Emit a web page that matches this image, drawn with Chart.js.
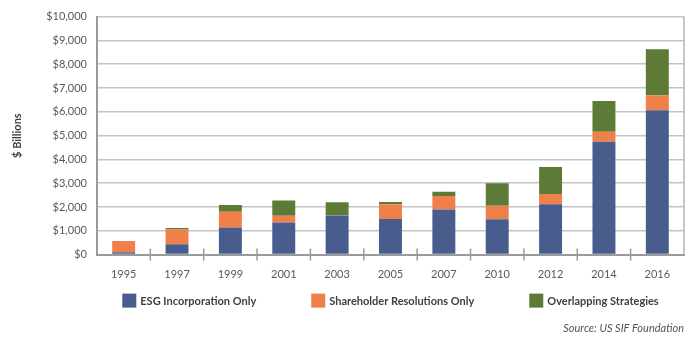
<!DOCTYPE html>
<html>
<head>
<meta charset="utf-8">
<script src="https://cdn.jsdelivr.net/npm/chart.js@4.4.1/dist/chart.umd.min.js"></script>
<style>
  html, body { margin: 0; padding: 0; background: #fff; }
  #wrap { width: 700px; height: 353px; }
</style>
</head>
<body>
<div id="wrap"><canvas id="chart"></canvas></div>
<script>
// Sustainable investing assets, $ billions
const years = ["1995", "1997", "1999", "2001", "2003", "2005", "2007", "2010", "2012", "2014", "2016"];
const esgOnly = [100, 430, 1140, 1350, 1640, 1500, 1890, 1490, 2120, 4740, 6060];
const resolutionsOnly = [470, 620, 660, 280, 10, 620, 570, 560, 430, 420, 640];
const overlapping = [0, 70, 280, 640, 550, 90, 180, 950, 1130, 1290, 1930];

const seriesNames = ["ESG Incorporation Only", "Shareholder Resolutions Only", "Overlapping Strategies"];
const seriesColors = ["#485C8D", "#EF8049", "#5D7A36"];
const yTicksMax = 10000;
const yTicksStep = 1000;
const sourceNote = "Source: US SIF Foundation";

const FONT = "Lato, 'Open Sans', sans-serif";

// right frame line + category separator ticks crossing the baseline
const frameTicks = {
  id: "frameTicks",
  afterDraw(chart) {
    const ctx = chart.ctx;
    const area = chart.chartArea;
    const xs = chart.scales.x;
    ctx.save();
    ctx.strokeStyle = "#b4b4b4";
    ctx.lineWidth = 1.5;
    ctx.beginPath();
    ctx.moveTo(area.right, area.top);
    ctx.lineTo(area.right, area.bottom);
    ctx.stroke();

    ctx.strokeStyle = "#9a9a9a";
    for (let i = 1; i < years.length; i++) {
      const x = (xs.getPixelForTick(i - 1) + xs.getPixelForTick(i)) / 2;
      ctx.beginPath();
      ctx.moveTo(x, area.bottom - 6);
      ctx.lineTo(x, area.bottom + 6);
      ctx.stroke();
    }
    ctx.restore();
  }
};

// one-row legend centred under the plot area (built-in one wraps at this gap)
const rowLegend = {
  id: "rowLegend",
  afterDraw(chart) {
    const ctx = chart.ctx;
    const area = chart.chartArea;
    const box = 14, gap = 55, textGap = 4;
    ctx.save();
    ctx.font = "bold 11px " + FONT;
    const widths = chart.data.datasets.map(ds => box + textGap + ctx.measureText(ds.label).width);
    const total = widths.reduce((a, b) => a + b, 0) + gap * (widths.length - 1);
    let x = (area.left + area.right) / 2 - total / 2;
    const cy = area.bottom + 46;
    ctx.textBaseline = "middle";
    ctx.textAlign = "left";
    chart.data.datasets.forEach((ds, i) => {
      ctx.fillStyle = ds.backgroundColor;
      ctx.fillRect(x, cy - box / 2, box, box);
      ctx.fillStyle = "#404040";
      ctx.fillText(ds.label, x + box + textGap, cy + 1);
      x += widths[i] + gap;
    });
    ctx.restore();
  }
};

const datasets = [esgOnly, resolutionsOnly, overlapping].map((vals, i) => ({
  label: seriesNames[i],
  data: vals,
  backgroundColor: seriesColors[i],
  borderWidth: 0,
  categoryPercentage: 1.0,
  barPercentage: 0.43
}));

new Chart(document.getElementById("chart"), {
  type: "bar",
  data: { labels: years, datasets: datasets },
  options: {
    responsive: true,
    maintainAspectRatio: false,
    animation: false,
    layout: { padding: { left: 7, right: 16, top: 10, bottom: 18 } },
    plugins: {
      tooltip: { enabled: false },
      legend: { display: false },
      subtitle: {
        display: true,
        text: sourceNote,
        position: "bottom",
        align: "end",
        color: "#555555",
        font: { family: FONT, size: 11, style: "italic" },
        padding: { top: 28, bottom: 0 }
      }
    },
    scales: {
      x: {
        stacked: true,
        grid: { display: false, drawTicks: false },
        border: { display: true, color: "#9a9a9a", width: 2 },
        ticks: {
          color: "#595959",
          padding: 13,
          font: { family: FONT, size: 11 }
        }
      },
      y: {
        stacked: true,
        min: 0,
        max: yTicksMax,
        grid: { color: "#c4c4c4", lineWidth: 1.5, drawTicks: false },
        border: { display: true, color: "#9a9a9a", width: 2 },
        ticks: {
          stepSize: yTicksStep,
          autoSkip: false,
          padding: 10,
          color: "#595959",
          font: { family: FONT, size: 11 },
          callback: (v) => "$" + v.toLocaleString("en-US")
        },
        title: {
          display: true,
          text: "$ Billions",
          color: "#404040",
          font: { family: FONT, size: 11, weight: "bold" },
          padding: { top: 4, bottom: 12 }
        }
      }
    }
  },
  plugins: [frameTicks, rowLegend]
});
</script>
</body>
</html>
